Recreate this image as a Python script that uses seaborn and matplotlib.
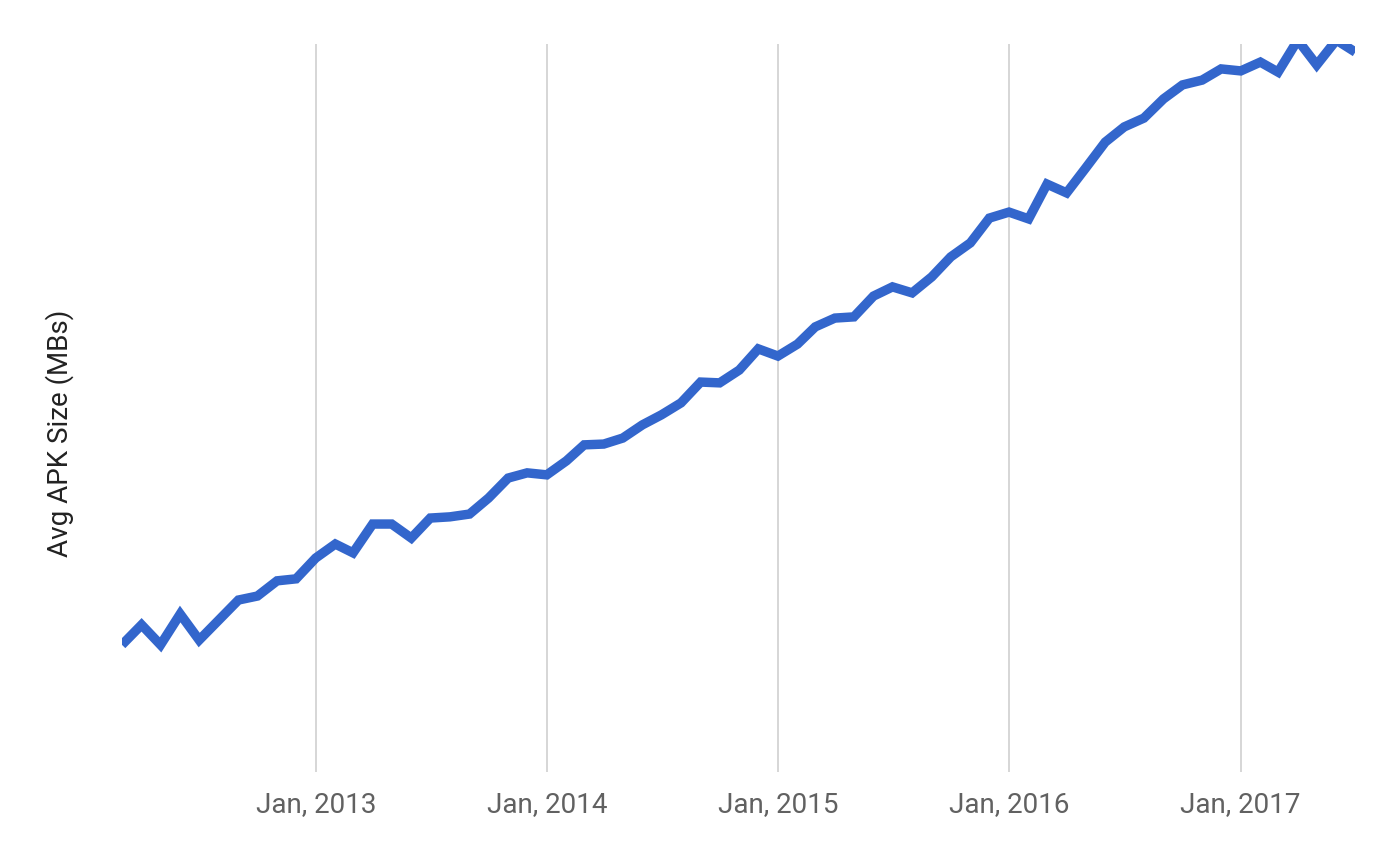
import pandas as pd
import numpy as np
import matplotlib
matplotlib.use('Agg')
import matplotlib.pyplot as plt
import seaborn as sns

# monthly averages, Mar 2012 .. Jul 2017
months = pd.date_range('2012-03-01', '2017-07-01', freq='MS')
apk_size = [3.18, 3.68, 3.18, 3.95, 3.30, 3.80, 4.30, 4.40, 4.78, 4.83,
            5.35, 5.70, 5.48, 6.20, 6.20, 5.85, 6.35, 6.38, 6.45, 6.85, 7.35, 7.48,
            7.43, 7.78, 8.18, 8.20, 8.35, 8.68, 8.93, 9.23, 9.75, 9.73, 10.05, 10.58,
            10.40, 10.70, 11.13, 11.35, 11.38, 11.90, 12.13, 11.98, 12.38, 12.88, 13.23, 13.85,
            14.00, 13.83, 14.70, 14.48, 15.10, 15.75, 16.13, 16.35, 16.83, 17.18, 17.30, 17.58,
            17.53, 17.75, 17.50, 18.30, 17.68, 18.30, 18.00]
tick_years = [2013, 2014, 2015, 2016, 2017]
tick_labels = ['Jan, %d' % y for y in tick_years]

df = pd.DataFrame({'month': months, 'size': apk_size})

sns.set_style('white')
plt.rcParams['font.family'] = ['Roboto', 'DejaVu Sans']

fig = plt.figure(figsize=(14, 8.65), dpi=100)
ax = fig.add_axes([0.0871, 0.1075, 0.881, 0.8415])

tick_dates = [pd.Timestamp('%d-01-01' % y) for y in tick_years]
ax.vlines(tick_dates, 0, 1, transform=ax.get_xaxis_transform(),
          color='#cccccc', linewidth=1.1, zorder=0)

sns.lineplot(data=df, x='month', y='size', ax=ax, color='#3366cc', linewidth=6.8)
for ln in ax.lines:
    ln.set_solid_joinstyle('miter')
    ln.set_solid_capstyle('butt')

ax.set_xlim(months[0], months[-1])
ax.set_ylim(0, 18.2)
ax.set_xticks(tick_dates)
ax.set_xticklabels(tick_labels)
ax.set_yticks([])
ax.tick_params(axis='x', length=0, pad=14, labelsize=20, labelcolor='#616161')
ax.set_xlabel('')
ax.set_ylabel('Avg APK Size (MBs)', fontsize=20, color='#222222')
ax.yaxis.set_label_coords(-0.039, 0.465)
for s in ax.spines.values():
    s.set_visible(False)

fig.savefig('out.png', dpi=100)
